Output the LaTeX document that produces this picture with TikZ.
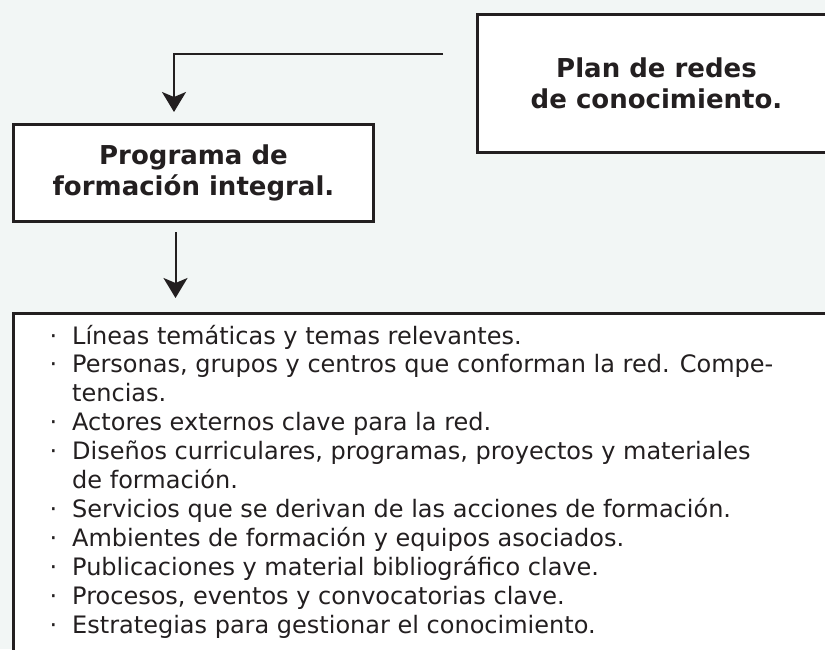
\documentclass[tikz,border=0pt]{standalone}
\usepackage{fontspec}
\setmainfont{DejaVu Sans}
\usetikzlibrary{arrows.meta}
\definecolor{bg}{HTML}{F2F6F5}
\definecolor{ink}{HTML}{231F20}
\newcommand\bul{\makebox[24pt][l]{\hspace{1.5pt}·}}
\begin{document}
\begin{tikzpicture}[x=1pt,y=-1pt,
  box/.style={draw=ink, line width=3pt, fill=white, inner sep=0pt},
  title/.style={font=\fontsize{26}{31.5}\selectfont\bfseries, text=ink, align=center},
  arr/.style={draw=ink, line width=2pt, -{Stealth[length=20pt,width=24pt,inset=5pt]}},
  listtext/.style={font=\fontsize{24}{28.9}\selectfont, text=ink, inner sep=0pt}
]
\fill[bg] (0,0) rectangle (825,649);
\useasboundingbox (0,0) rectangle (825,649);
\clip (0,0) rectangle (825,649);
\node[box, title, minimum width=358pt, minimum height=138pt, anchor=north west] (plan) at (476,13) {Plan de redes\\de conocimiento.};
\node[box, title, minimum width=360pt, minimum height=97pt, anchor=north west] (prog) at (12,123) {Programa de\\formación integral.};
\node[box, minimum width=850pt, minimum height=400pt, anchor=north west] (lst) at (12,312) {};
\node[listtext, anchor=base west] (items) at (48,344) {\begin{tabular}[t]{@{}l@{}l@{}}
\bul & Líneas temáticas y temas relevantes.\\
\bul & Personas, grupos y centros que conforman la red. Compe-\\
 & tencias.\\
\bul & Actores externos clave para la red.\\
\bul & Diseños curriculares, programas, proyectos y materiales\\
 & de formación.\\
\bul & Servicios que se derivan de las acciones de formación.\\
\bul & Ambientes de formación y equipos asociados.\\
\bul & Publicaciones y material bibliográfico clave.\\
\bul & Procesos, eventos y convocatorias clave.\\
\bul & Estrategias para gestionar el conocimiento.
\end{tabular}};
\coordinate (c1) at (443,54);
\coordinate (t1) at (174,112);
\draw[arr] (c1) -| (t1);
\draw[arr, shorten <=9pt, shorten >=14pt] ([xshift=-18pt]prog.south) -- ([xshift=-18pt]prog.south |- lst.north);
\end{tikzpicture}
\end{document}
